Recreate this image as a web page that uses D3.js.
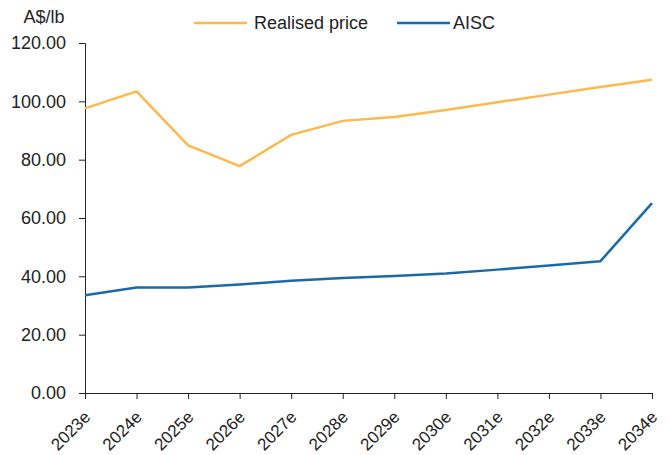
<!DOCTYPE html>
<html>
<head>
<meta charset="utf-8">
<script src="https://cdn.jsdelivr.net/npm/d3@7/dist/d3.min.js"></script>
<style>
  html, body { margin: 0; padding: 0; background: #fff; }
  svg { display: block; font-family: "Liberation Sans", Arial, sans-serif; }
</style>
</head>
<body>
<svg id="chart" width="670" height="455"></svg>
<script>
// Forecast years
const years = ["2023e","2024e","2025e","2026e","2027e","2028e","2029e","2030e","2031e","2032e","2033e","2034e"];
// Realised uranium price, A$/lb
const realisedPrice = [97.6, 103.4, 84.9, 77.8, 88.5, 93.3, 94.6, 97.0, 99.7, 102.3, 104.9, 107.4];
// All-in sustaining cost, A$/lb
const aisc = [33.5, 36.2, 36.2, 37.2, 38.5, 39.4, 40.1, 41.0, 42.3, 43.7, 45.2, 65.1];
// Y-axis ticks
const yTicks = [0, 20, 40, 60, 80, 100, 120];

const series = [
  { name: "Realised price", values: realisedPrice, color: "#FDB94C" },
  { name: "AISC", values: aisc, color: "#1A6AAA" }
];

const svg = d3.select("#chart");
const margin = { left: 85, right: 18, top: 43, bottom: 62 };
const W = 670, H = 455;

const x = d3.scalePoint().domain(years).range([margin.left, W - margin.right]);
const y = d3.scaleLinear().domain([0, 120]).range([H - margin.bottom, margin.top]);

// Y axis
const yAxis = svg.append("g")
  .attr("transform", `translate(${margin.left},0)`)
  .call(d3.axisLeft(y).tickValues(yTicks).tickFormat(d3.format(".2f")).tickSize(6).tickPadding(13));
yAxis.select(".domain").attr("stroke", "#222");
yAxis.selectAll(".tick line").attr("stroke", "#222");
yAxis.selectAll("text").attr("fill", "#222").style("font-size", "18px");

// X axis
const xAxis = svg.append("g")
  .attr("transform", `translate(0,${y(0)})`)
  .call(d3.axisBottom(x).tickSize(6).tickSizeOuter(0));
xAxis.select(".domain").attr("stroke", "#222");
xAxis.selectAll(".tick line").attr("stroke", "#222");
xAxis.selectAll("text")
  .attr("fill", "#222")
  .style("font-size", "17px")
  .attr("text-anchor", "end")
  .attr("dy", null)
  .attr("y", 0)
  .attr("transform", "translate(6,25) rotate(-45)");

// Unit label
svg.append("text")
  .attr("x", 44).attr("y", 23)
  .attr("text-anchor", "middle")
  .attr("fill", "#222")
  .style("font-size", "18px")
  .text("A$/lb");

// Lines
const line = d3.line()
  .x((d, i) => x(years[i]))
  .y(d => y(d));

series.forEach(s => {
  svg.append("path")
    .datum(s.values)
    .attr("fill", "none")
    .attr("stroke", s.color)
    .attr("stroke-width", 2.5)
    .attr("stroke-linejoin", "round")
    .attr("d", line);
});

// Legend
const legendPos = [{ x1: 194, x2: 247, tx: 254 }, { x1: 397, x2: 450, tx: 453 }];
series.forEach((s, i) => {
  const p = legendPos[i];
  svg.append("line")
    .attr("x1", p.x1).attr("x2", p.x2)
    .attr("y1", 23).attr("y2", 23)
    .attr("stroke", s.color).attr("stroke-width", 2.5);
  svg.append("text")
    .attr("x", p.tx).attr("y", 29)
    .attr("fill", "#222")
    .style("font-size", "18px")
    .text(s.name);
});
</script>
</body>
</html>
